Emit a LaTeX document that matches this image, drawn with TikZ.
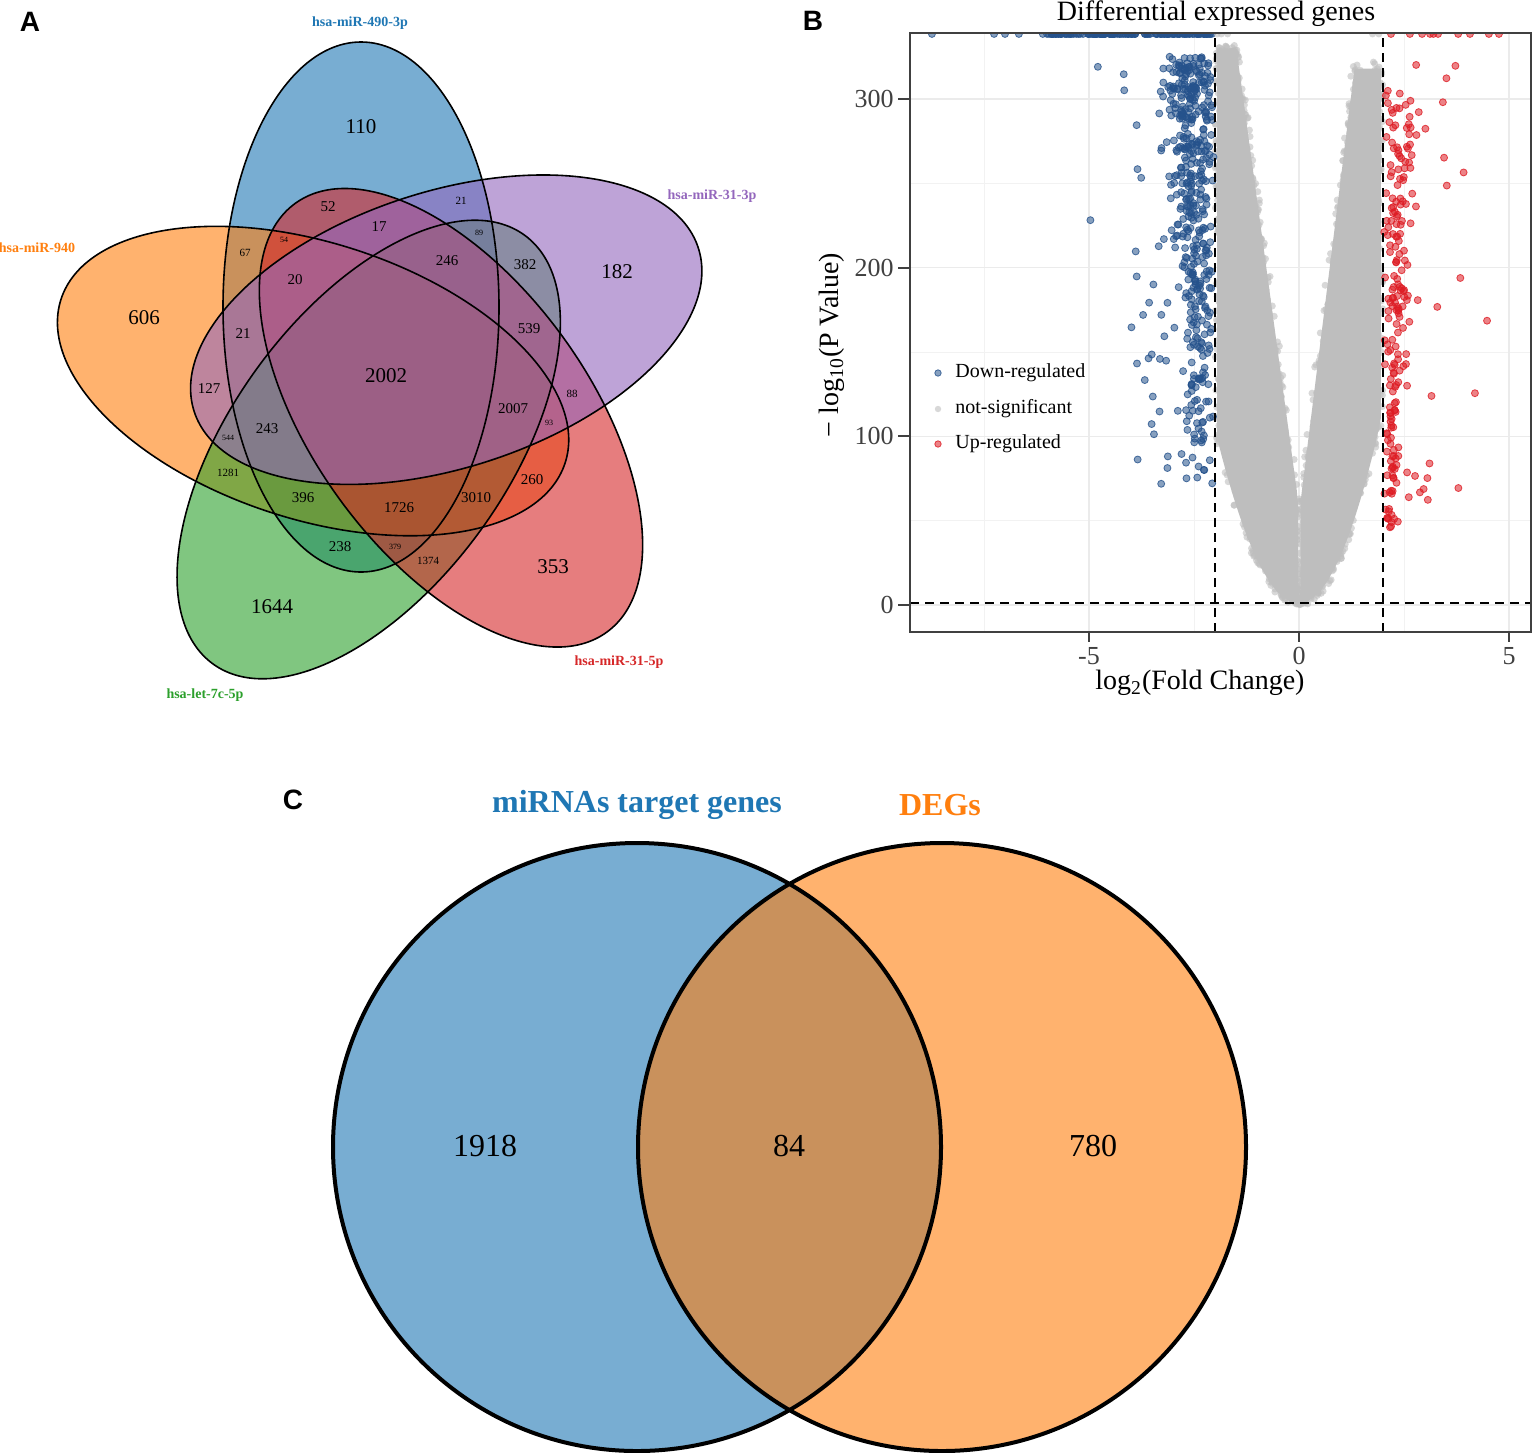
\documentclass[tikz,border=0pt]{standalone}
\usepackage{fontspec}
\setmainfont{Liberation Serif}
\setsansfont{Liberation Sans}
\usepackage{tikz}
\usetikzlibrary{positioning}
\definecolor{vblue}{HTML}{1F77B4}
\definecolor{vorange}{HTML}{FF7F0E}
\definecolor{vgreen}{HTML}{2CA02C}
\definecolor{vred}{HTML}{D62728}
\definecolor{vpurple}{HTML}{9467BD}
\definecolor{dnblue}{RGB}{37,82,140}
\definecolor{upred}{RGB}{222,28,36}
\definecolor{nsgray}{RGB}{190,190,190}
\tikzstyle{setfill} = [fill opacity=0.6]
\tikzstyle{setline} = [draw=black, line width=0.8pt]
\tikzstyle{setlab} = [font=\bfseries\fontsize{7}{8}\selectfont, inner sep=0pt]
\tikzstyle{cntbig} = [font=\fontsize{10.5}{12}\selectfont, inner sep=0pt]
\tikzstyle{cntmed} = [font=\fontsize{7.5}{9}\selectfont, inner sep=0pt]
\tikzstyle{cntsml} = [font=\fontsize{5.5}{7}\selectfont, inner sep=0pt]
\tikzstyle{cnttny} = [font=\fontsize{4}{5}\selectfont, inner sep=0pt]
\tikzstyle{panlab} = [font=\sffamily\bfseries\fontsize{14}{16}\selectfont, inner sep=0pt]
\tikzstyle{dnpt} = [fill=dnblue, draw=dnblue, fill opacity=0.55, draw opacity=0.8, line width=0.4pt]
\tikzstyle{uppt} = [fill=upred, draw=upred, fill opacity=0.55, draw opacity=0.8, line width=0.4pt]
\tikzstyle{nspt} = [fill=nsgray, fill opacity=0.6]
\tikzstyle{cutoff} = [dash pattern=on 4.5pt off 3pt, line width=1.1pt]
\tikzstyle{minorgrid} = [draw=black!5, line width=0.4pt]
\tikzstyle{majorgrid} = [draw=black!8, line width=0.8pt]
\tikzstyle{ticklab} = [font=\fontsize{13}{15}\selectfont, text=black!75, inner sep=0pt]
\tikzstyle{axlab} = [font=\fontsize{14}{16}\selectfont, inner sep=0pt]
\tikzstyle{legtxt} = [font=\fontsize{10}{12}\selectfont, inner sep=0pt, anchor=west]
\tikzstyle{cset} = [line width=2pt, draw=black]
\tikzstyle{cnum} = [font=\fontsize{16}{18}\selectfont, inner sep=0pt]
\tikzstyle{ctitle} = [font=\bfseries\fontsize{16}{18}\selectfont, inner sep=0pt]
\newcommand\volcdot[2]{%
  \ifdim#1pt<-2pt\relax \filldraw[dnpt] (#1,#2) circle (1.75pt);%
  \else\ifdim#1pt>2pt\relax \filldraw[uppt] (#1,#2) circle (1.75pt);%
  \else \fill[nspt] (#1,#2) circle (1.75pt);\fi\fi}

\begin{document}
\begin{tikzpicture}[x=0.5pt, y=-0.5pt]
\fill[white] (0,0) rectangle (1535,1452);
\useasboundingbox (0,0) rectangle (1535,1452);

% A: five-set Venn
\begin{scope}[shift={(388,377)}]
\foreach \ang/\col in {0/vblue,-288/vorange,-216/vgreen,-144/vred,-72/vpurple}
  \fill[\col, setfill, rotate=\ang] (-27,-70) ellipse [x radius=138, y radius=265];
\foreach \ang in {0,-72,-144,-216,-288}
  \draw[setline, rotate=\ang] (-27,-70) ellipse [x radius=138, y radius=265];
\end{scope}
\node[panlab] (pA) at (30,22) {A};
\node[setlab, text=vblue] (s490) at (360,23) {hsa-miR-490-3p};
\node[setlab, text=vpurple] (s313) at (712,196) {hsa-miR-31-3p};
\node[setlab, text=vorange] (s940) at (37,248) {hsa-miR-940};
\node[setlab, text=vred] (s315) at (619,662) {hsa-miR-31-5p};
\node[setlab, text=vgreen] (slet) at (205,695) {hsa-let-7c-5p};
\foreach \t/\px/\py [count=\k] in {110/361/127, 606/144/318, 182/617/272, 353/553/567, 1644/272/607, 2002/386/376}
  \node[cntbig] (big\k) at (\px,\py) {\t};
\foreach \t/\px/\py [count=\k] in {52/328/207, 17/379/227, 20/295/280, 21/243/334, 246/447/261, 382/525/265, 539/529/329, 127/209/389, 243/267/429, 396/303/498, 1726/399/508, 238/340/547, 2007/513/409, 260/532/480, 3010/476/498}
  \node[cntmed] (med\k) at (\px,\py) {\t};
\foreach \t/\px/\py [count=\k] in {21/461/201, 67/245/253, 88/572/394, 1281/228/473, 1374/428/561}
  \node[cntsml] (sml\k) at (\px,\py) {\t};
\foreach \t/\px/\py [count=\k] in {54/284/240, 89/479/233, 544/228/438, 93/549/423, 379/395/547}
  \node[cnttny] (tny\k) at (\px,\py) {\t};

% B: volcano plot
\node[panlab] (pB) at (813,21) {B};
\node[axlab] (vtitle) at (1216,14) {Differential expressed genes};
\begin{scope}[shift={(1299,605)}, x=21pt, y=0.8435pt]
\foreach \gx in {-7.5,-2.5,2.5} {\draw[minorgrid] (\gx,-16) -- (\gx,339.1);}
\foreach \gy in {50,150,250} {\draw[minorgrid] (-9.262,\gy) -- (5.52,\gy);}
\foreach \gx in {-5,0,5} {\draw[majorgrid] (\gx,-16) -- (\gx,339.1);}
\foreach \gy in {0,100,200,300} {\draw[majorgrid] (-9.262,\gy) -- (5.52,\gy);}
\begin{scope}
\clip (-9.262,-16) rectangle (5.52,339.1);
\fill[nsgray] plot[domain=1:330, samples=50] ({-min(1.95,0.2*sqrt(\x)-0.04)},\x)
  -- plot[domain=330:1, samples=50] ({-max(0,0.0055*\x-0.35)-0.03},\x) -- cycle;
\fill[nsgray] plot[domain=1:318, samples=50] ({min(1.95,0.19*sqrt(\x)-0.04)},\x)
  -- plot[domain=318:1, samples=50] ({max(0,0.005*\x-0.3)+0.03},\x) -- cycle;
\pgfmathsetseed{2718}
\foreach \i in {1,...,1300}{
  \pgfmathsetmacro\vv{332*rnd}
  \pgfmathsetmacro\xin{max(0,0.0055*\vv-0.35)}
  \pgfmathsetmacro\xout{min(1.99,0.2*sqrt(\vv)+0.02)}
  \pgfmathsetmacro\xx{-min(1.99,\xin+(\xout-\xin)*rnd+0.08*(rnd-0.5))}
  \volcdot{\xx}{\vv}}
\foreach \i in {1,...,1200}{
  \pgfmathsetmacro\vv{322*rnd}
  \pgfmathsetmacro\xin{max(0,0.005*\vv-0.3)}
  \pgfmathsetmacro\xout{min(1.99,0.19*sqrt(\vv)+0.02)}
  \pgfmathsetmacro\xx{min(1.99,\xin+(\xout-\xin)*rnd+0.08*(rnd-0.5))}
  \volcdot{\xx}{\vv}}
\foreach \i in {1,...,420}{
  \pgfmathsetmacro\vv{60+265*sqrt(rnd)}
  \pgfmathsetmacro\xx{-2.02-(0.5+0.0035*\vv)*(rnd+rnd*rnd)/2}
  \volcdot{\xx}{\vv}}
\foreach \i in {1,...,60}{
  \pgfmathsetmacro\vv{70+255*rnd}
  \pgfmathsetmacro\xx{-2.6-2.7*rnd*rnd}
  \volcdot{\xx}{\vv}}
\foreach \i in {1,...,190}{
  \pgfmathsetmacro\vv{45+265*rnd}
  \pgfmathsetmacro\xx{2.02+(0.3+0.0025*\vv)*(rnd+rnd*rnd)/2}
  \volcdot{\xx}{\vv}}
\foreach \i in {1,...,30}{
  \pgfmathsetmacro\vv{55+270*rnd}
  \pgfmathsetmacro\xx{2.5+2.2*rnd*rnd}
  \volcdot{\xx}{\vv}}
\foreach \i in {1,...,130}{
  \pgfmathsetmacro\xx{-2.02-3.9*rnd}
  \volcdot{\xx}{338.5}}
\foreach \xx in {-8.74,-7.26,-7.0,-6.67,-6.1,-6.0,-5.95,-1.95,-1.85,-1.7,1.75,1.9,2.19,2.64,2.93,3.12,3.2,3.31,3.79,4.07,4.52,4.76}{
  \volcdot{\xx}{338.5}}
\end{scope}
\draw[cutoff] (-2,-16) -- (-2,339.1);
\draw[cutoff] (2,-16) -- (2,339.1);
\draw[cutoff] (-9.262,1.3) -- (5.52,1.3);
\end{scope}
\draw[black!75, line width=0.7pt] (910,33) rectangle (1531,632);
\foreach \v/\py in {0/605,100/436,200/268,300/99}{
  \draw[black!75, line width=1.1pt] (898,\py) -- (910,\py);
  \node[ticklab, anchor=east] (yt\v) at (894,\py) {\v};}
\foreach \v/\px in {-5/1089,0/1299,5/1509}{
  \draw[black!75, line width=1.1pt] (\px,632) -- (\px,642);
  \node[ticklab] (xt\v) at (\px,656) {\v};}
\node[axlab] (xlab) at (1200,683) {log\textsubscript{2}(Fold Change)};
\node[axlab, rotate=90] (ylab) at (832,345) {− log\textsubscript{10}(P Value)};
\foreach \nm/\st/\py in {Down-regulated/dnpt/373, not-significant/nspt/409, Up-regulated/uppt/444}{
  \fill[\st] (938,\py) circle (1.6pt);
  \node[legtxt] (lg\st) at (955,\py) {\nm};}

% C: two-set Venn
\node[panlab] (pC) at (293,800) {C};
\fill[vblue, setfill] (637,1147) circle [radius=304];
\fill[vorange, setfill] (942,1147) circle [radius=304];
\draw[cset] (637,1147) circle [radius=304];
\draw[cset] (942,1147) circle [radius=304];
\node[ctitle, text=vblue] (tmir) at (637,805) {miRNAs target genes};
\node[ctitle, text=vorange] (tdeg) at (940,805) {DEGs};
\node[cnum] (n1918) at (485,1146) {1918};
\node[cnum] (n84) at (789,1146) {84};
\node[cnum] (n780) at (1093,1146) {780};
\end{tikzpicture}
\end{document}
